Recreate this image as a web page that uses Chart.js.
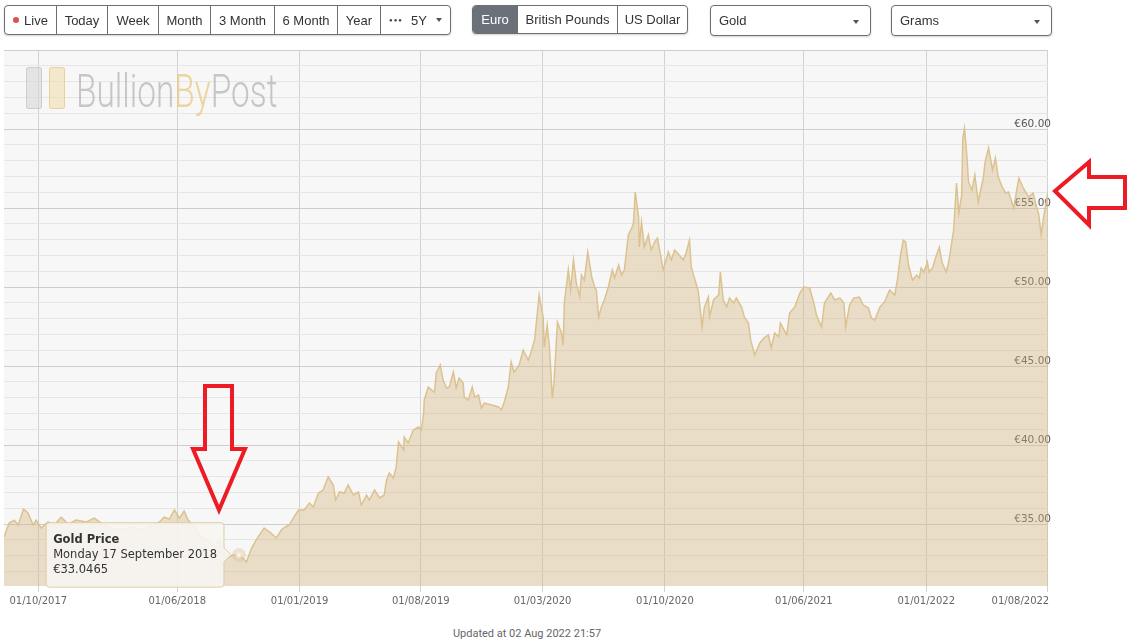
<!DOCTYPE html>
<html>
<head>
<meta charset="utf-8">
<script src="https://cdn.jsdelivr.net/npm/chart.js@4.4.0/dist/chart.umd.min.js"></script>
<style>
body{margin:0;background:#fff;width:1140px;height:643px;overflow:hidden;position:relative;font-family:"Liberation Sans",Arial,sans-serif;}
#wrap{position:absolute;left:0;top:0;width:1140px;height:625px;}
.grp{position:absolute;top:5px;height:30px;display:flex;border:1px solid #6e6e6e;border-radius:4px;box-sizing:border-box;box-shadow:0 1px 2px rgba(0,0,0,.18);overflow:hidden;background:#fff;z-index:2}
.grp span{display:flex;align-items:center;justify-content:center;border-left:1px solid #6e6e6e;font-size:13px;color:#333;box-sizing:border-box;height:100%}
.grp span:first-child{border-left:none}
.dot{width:6px;height:6px;border-radius:50%;background:#d9534f;margin-right:5px}
.dots{font-size:6px;letter-spacing:1px;margin-right:8px;color:#444;font-style:normal}
.caret{width:0;height:0;border-top:4px solid #555;border-left:3px solid transparent;border-right:3px solid transparent;margin-left:9px}
.grp span.on{background:#6b7178;color:#fff}
.sel{position:absolute;top:5px;height:31px;width:161px;border:1px solid #6e6e6e;border-radius:4px;box-sizing:border-box;box-shadow:0 1px 2px rgba(0,0,0,.18);background:#fff;font-size:13px;color:#333;display:flex;align-items:center;padding-left:8px;z-index:2}
.sel .caret{position:absolute;right:11px;top:14px;margin:0}
.logo{position:absolute;left:0;top:0;z-index:2;pointer-events:none}
.bar1{position:absolute;top:67px;width:16px;height:42px;border-radius:3px;box-sizing:border-box}
.wm{position:absolute;left:76px;top:67px;font-family:Roboto,sans-serif;font-weight:300;font-size:47px;line-height:47px;color:rgba(165,165,165,.6);transform:scaleX(.71);transform-origin:0 0;white-space:nowrap}
.wm b{font-weight:300;color:rgba(232,200,130,.75)}
#foot{position:absolute;left:0;width:1054px;top:627px;text-align:center;font-family:Roboto,sans-serif;font-size:11px;color:#666}
svg{position:absolute;left:0;top:0;z-index:3;pointer-events:none}
</style>
</head>
<body>
<div id="wrap"><canvas id="chart"></canvas></div>

<div class="grp" style="left:4px;width:447px">
  <span style="width:51px"><i class="dot"></i>Live</span>
  <span style="width:51px">Today</span>
  <span style="width:51px">Week</span>
  <span style="width:52px">Month</span>
  <span style="width:64px">3 Month</span>
  <span style="width:63px">6 Month</span>
  <span style="width:43px">Year</span>
  <span style="width:70px"><i class="dots">●●●</i>5Y<i class="caret"></i></span>
</div>
<div class="grp" style="left:472px;width:216px;height:29px">
  <span class="on" style="width:44px">Euro</span>
  <span style="width:100px">British Pounds</span>
  <span style="width:70px">US Dollar</span>
</div>
<div class="sel" style="left:710px">Gold<i class="caret"></i></div>
<div class="sel" style="left:891px">Grams<i class="caret"></i></div>

<div class="logo">
  <div class="bar1" style="left:26px;background:rgba(215,215,215,.6);border:1px solid rgba(190,190,190,.6)"></div>
  <div class="bar1" style="left:49px;background:rgba(240,222,175,.6);border:1px solid rgba(228,200,135,.7)"></div>
  <div class="wm">Bullion<b>By</b>Post</div>
</div>

<div id="foot">Updated at 02 Aug 2022 21:57</div>

<svg width="1140" height="643">
  <polygon points="205,386 232,386 232,449 245,449 219,510 193,449 205,449" fill="none" stroke="#ed1c24" stroke-width="4"/>
  <polygon points="1055,191 1089,162 1089,177 1125,177 1125,208 1089,208 1089,225" fill="none" stroke="#ed1c24" stroke-width="4"/>
</svg>

<script>
// precio del oro en euros por gramo
const dates = [
  '2017-08-02','2017-08-11','2017-08-20','2017-08-27','2017-09-05','2017-09-13','2017-09-22','2017-09-27',
  '2017-10-06','2017-10-18','2017-10-29','2017-11-10','2017-11-22','2017-12-06','2017-12-24',
  '2018-01-07','2018-01-19','2018-02-05','2018-02-23','2018-03-12','2018-03-30','2018-04-16',
  '2018-05-01','2018-05-09','2018-05-18','2018-05-27','2018-06-05','2018-06-13','2018-06-20',
  '2018-07-01','2018-07-13','2018-07-25','2018-08-05','2018-08-13','2018-08-21','2018-08-30',
  '2018-09-07','2018-09-17','2018-09-23','2018-09-30','2018-10-09','2018-10-17','2018-10-26',
  '2018-10-31','2018-11-07','2018-11-12','2018-11-21','2018-11-30','2018-12-04','2018-12-14',
  '2018-12-21','2018-12-30',
  '2019-01-09','2019-01-18','2019-01-25','2019-02-03','2019-02-11','2019-02-20','2019-03-01',
  '2019-03-05','2019-03-12','2019-03-20','2019-03-27','2019-04-05','2019-04-14','2019-04-19',
  '2019-04-28','2019-05-03','2019-05-12','2019-05-21','2019-05-29','2019-06-02','2019-06-07',
  '2019-06-14','2019-06-19','2019-06-23','2019-07-02','2019-07-03','2019-07-10','2019-07-19',
  '2019-07-28','2019-08-02','2019-08-06','2019-08-07','2019-08-14','2019-08-20','2019-08-25',
  '2019-08-28','2019-09-04','2019-09-09','2019-09-15','2019-09-20','2019-09-27','2019-10-02',
  '2019-10-07','2019-10-14','2019-10-16','2019-10-23','2019-10-30','2019-11-03','2019-11-10',
  '2019-11-15','2019-11-20','2019-12-03','2019-12-15','2019-12-20','2019-12-25',
  '2020-01-01','2020-01-06','2020-01-11','2020-01-20','2020-01-27','2020-02-05','2020-02-10',
  '2020-02-16','2020-02-24','2020-03-02','2020-03-04','2020-03-09','2020-03-13','2020-03-18',
  '2020-03-21','2020-03-27','2020-04-03','2020-04-06','2020-04-08','2020-04-15','2020-04-19',
  '2020-04-24','2020-04-29','2020-05-05','2020-05-08','2020-05-13','2020-05-19','2020-05-26',
  '2020-05-31','2020-06-03','2020-06-07','2020-06-12','2020-06-17','2020-06-24','2020-07-01',
  '2020-07-05','2020-07-12','2020-07-17','2020-07-22','2020-07-29','2020-08-04','2020-08-07',
  '2020-08-10','2020-08-16','2020-08-17','2020-08-21','2020-08-26','2020-09-02','2020-09-07',
  '2020-09-13','2020-09-18','2020-09-21','2020-09-28','2020-10-07','2020-10-12','2020-10-18',
  '2020-10-26','2020-11-02','2020-11-07','2020-11-13','2020-11-16','2020-11-21','2020-11-28',
  '2020-12-01','2020-12-05','2020-12-09','2020-12-16','2020-12-18','2020-12-25','2020-12-30',
  '2021-01-03','2021-01-06','2021-01-11','2021-01-17','2021-01-22','2021-01-29','2021-02-03',
  '2021-02-12','2021-02-17','2021-02-24','2021-02-28','2021-03-07','2021-03-16','2021-03-23',
  '2021-03-31','2021-04-05','2021-04-11','2021-04-18','2021-04-21','2021-05-02','2021-05-07',
  '2021-05-16','2021-05-25','2021-06-01','2021-06-11','2021-06-18','2021-06-23','2021-07-02',
  '2021-07-07','2021-07-18','2021-07-25','2021-08-03','2021-08-10','2021-08-13','2021-08-20',
  '2021-08-27','2021-09-06','2021-09-13','2021-09-22','2021-09-27','2021-10-03','2021-10-12',
  '2021-10-20','2021-10-29','2021-11-07','2021-11-12','2021-11-17','2021-11-22','2021-11-26',
  '2021-12-01','2021-12-08','2021-12-15','2021-12-20','2021-12-23','2021-12-28',
  '2022-01-03','2022-01-06','2022-01-12','2022-01-19','2022-01-24','2022-01-29','2022-02-05',
  '2022-02-09','2022-02-14','2022-02-18','2022-02-23','2022-02-27','2022-03-04','2022-03-06',
  '2022-03-09','2022-03-13','2022-03-16','2022-03-22','2022-03-27','2022-04-02','2022-04-11',
  '2022-04-14','2022-04-20','2022-04-27','2022-05-02','2022-05-07','2022-05-14','2022-05-20',
  '2022-05-25','2022-06-03','2022-06-12','2022-06-19','2022-06-24','2022-06-29','2022-07-07',
  '2022-07-12','2022-07-17','2022-07-21','2022-07-26','2022-07-29','2022-08-02'
];
const prices = [
  34.18,35.06,35.25,34.94,35.95,35.70,34.94,35.25,
  34.75,35.13,34.94,35.44,35.00,35.25,35.13,
  35.38,35.06,34.75,34.62,34.81,34.62,34.87,
  35.13,35.44,35.32,35.89,35.38,35.82,35.25,
  34.81,34.18,33.99,33.54,33.99,33.23,32.91,
  33.04,33.0465,32.85,32.60,33.48,33.99,34.49,
  34.75,34.56,34.43,34.11,34.62,34.75,34.94,
  35.38,35.89,
  35.89,36.33,36.08,36.96,37.15,37.98,37.47,
  36.52,37.03,36.96,37.47,36.84,37.03,36.20,
  36.84,36.52,37.15,36.65,36.84,37.78,38.23,
  37.91,38.61,40.19,39.68,40.51,40.13,40.95,
  41.14,40.95,42.03,42.85,43.67,43.48,43.35,
  44.56,45.06,44.11,43.61,43.67,44.62,43.61,
  44.24,43.92,43.04,42.85,43.67,43.04,43.16,
  42.34,42.66,42.53,42.41,42.22,42.72,
  43.67,45.25,44.62,45.06,46.01,45.38,45.89,
  46.65,49.49,48.10,46.20,47.60,46.20,42.97,
  43.92,47.78,47.09,46.33,48.99,51.08,49.81,
  51.71,50.25,49.37,50.76,50.44,52.22,50.63,
  50.00,49.81,48.10,48.73,49.18,50.00,51.08,
  50.57,51.39,50.76,51.08,53.29,53.73,54.05,
  56.01,54.43,52.53,54.11,52.53,53.29,52.34,
  52.85,53.10,52.47,51.08,52.22,51.71,52.34,
  52.03,51.71,52.15,52.97,51.27,50.63,49.81,
  48.86,47.47,48.73,49.37,48.10,49.18,49.37,
  49.49,50.95,49.18,48.73,49.30,48.99,49.30,
  48.73,48.10,47.72,46.65,45.70,46.46,46.77,
  46.96,46.14,47.09,46.84,47.72,46.96,48.35,
  48.73,49.62,50.00,49.94,49.05,48.23,47.47,
  48.99,49.62,49.18,49.30,48.99,47.47,48.86,
  49.30,49.37,48.86,48.67,48.04,47.91,48.73,
  49.05,49.81,49.49,50.57,52.03,52.97,52.85,
  51.39,50.44,50.76,50.57,51.20,50.95,
  51.58,50.95,51.20,52.03,52.53,51.52,50.95,
  51.52,52.66,53.61,56.58,54.68,55.82,59.43,
  60.06,58.35,56.65,56.14,57.09,55.38,56.96,
  57.91,58.80,57.41,58.16,56.96,56.33,55.95,
  56.01,55.00,56.90,56.33,56.01,55.70,55.95,
  55.19,54.56,53.30,54.56,55.20,56.01
];

// marcas del eje x
const tickDates = ['2017-10-01','2018-06-01','2019-01-01','2019-08-01','2020-03-01','2020-10-01','2021-06-01','2022-01-01','2022-08-01'];
const tickLabels = ['01/10/2017','01/06/2018','01/01/2019','01/08/2019','01/03/2020','01/10/2020','01/06/2021','01/01/2022','01/08/2022                 '];
// líneas del eje y (cada euro), con etiqueta cada cinco
const yTickValues = [32,33,34,35,36,37,38,39,40,41,42,43,44,45,46,47,48,49,50,51,52,53,54,55,56,57,58,59,60,61,62,63,64,65];
const yLabelValues = [35,40,45,50,55,60];

const tooltipDate = '2018-09-17';
const dayNames = ['Sunday','Monday','Tuesday','Wednesday','Thursday','Friday','Saturday'];
const monthNames = ['January','February','March','April','May','June','July','August','September','October','November','December'];

function toTime(d) { return Date.parse(d + 'T00:00:00Z'); }

function longDate(d) {
    const dt = new Date(toTime(d));
    return dayNames[dt.getUTCDay()] + ' ' + dt.getUTCDate() + ' ' + monthNames[dt.getUTCMonth()] + ' ' + dt.getUTCFullYear();
}

// fondo gris del área del gráfico
const plotBg = {
    id: 'plotBg',
    beforeDraw(chart) {
        const { ctx, chartArea: a } = chart;
        ctx.save();
        ctx.fillStyle = '#f7f7f7';
        ctx.fillRect(a.left, a.top, a.right - a.left, a.bottom - a.top);
        ctx.restore();
    }
};

const points = dates.map((d, i) => ({ x: toTime(d), y: prices[i] }));

const ctx = document.getElementById('chart').getContext('2d');
const chart = new Chart(ctx, {
    type: 'line',
    data: {
        datasets: [{
            label: 'Gold Price',
            data: points,
            borderColor: '#dcc28f',
            borderWidth: 1.5,
            backgroundColor: 'rgba(212,183,130,0.4)',
            fill: 'start',
            tension: 0,
            pointRadius: 0,
            pointHoverRadius: 3,
            pointHoverBackgroundColor: '#fff',
            pointHoverBorderColor: 'rgba(215,190,140,0.35)',
            pointHoverBorderWidth: 8
        }]
    },
    options: {
        responsive: true,
        maintainAspectRatio: false,
        animation: false,
        events: [],
        layout: { padding: { left: 4, top: 50, right: 86, bottom: 15 } },
        scales: {
            x: {
                type: 'linear',
                min: toTime('2017-08-02'),
                max: toTime('2022-08-02'),
                afterBuildTicks: (scale) => { scale.ticks = tickDates.map(d => ({ value: toTime(d) })); },
                border: { display: false },
                grid: { color: '#d2d2d2', tickLength: 6 },
                ticks: {
                    autoSkip: false,
                    maxRotation: 0,
                    padding: 3,
                    color: '#666',
                    font: { family: 'DejaVu Sans', size: 10 },
                    callback: (v, i) => tickLabels[i]
                }
            },
            y: {
                position: 'right',
                min: 31.08,
                max: 65,
                afterBuildTicks: (scale) => { scale.ticks = yTickValues.map(v => ({ value: v })); },
                border: { display: false },
                grid: {
                    drawTicks: false,
                    color: (c) => (c.tick && c.tick.value % 5 === 0) ? '#cdcdcd' : '#e6e6e6'
                },
                ticks: {
                    mirror: true,
                    padding: 3,
                    labelOffset: -5,
                    color: '#555',
                    font: { family: 'DejaVu Sans', size: 10.5 },
                    callback: (v) => yLabelValues.includes(v) ? '€' + v.toFixed(2) : ''
                }
            }
        },
        plugins: {
            legend: { display: false },
            tooltip: {
                enabled: true,
                xAlign: 'right',
                yAlign: 'center',
                caretSize: 7,
                caretPadding: 8,
                cornerRadius: 3,
                backgroundColor: 'rgba(247,246,242,0.88)',
                borderColor: '#dfcda2',
                borderWidth: 1,
                displayColors: false,
                padding: { top: 10, bottom: 10, left: 7, right: 7 },
                titleColor: '#333',
                bodyColor: '#333',
                titleFont: { family: 'DejaVu Sans', size: 11.5, weight: 'bold' },
                bodyFont: { family: 'DejaVu Sans', size: 11.5 },
                titleMarginBottom: 1.5,
                bodySpacing: 1.5,
                callbacks: {
                    title: () => 'Gold Price',
                    label: (item) => [longDate(dates[item.dataIndex]), '€' + item.parsed.y]
                }
            }
        }
    },
    plugins: [plotBg]
});

// mostrar el tooltip fijo del 17 de septiembre de 2018
const idx = dates.indexOf(tooltipDate);
const el = chart.getDatasetMeta(0).data[idx];
chart.setActiveElements([{ datasetIndex: 0, index: idx }]);
chart.tooltip.setActiveElements([{ datasetIndex: 0, index: idx }], { x: el.x, y: el.y });
chart.update();
</script>
</body>
</html>
